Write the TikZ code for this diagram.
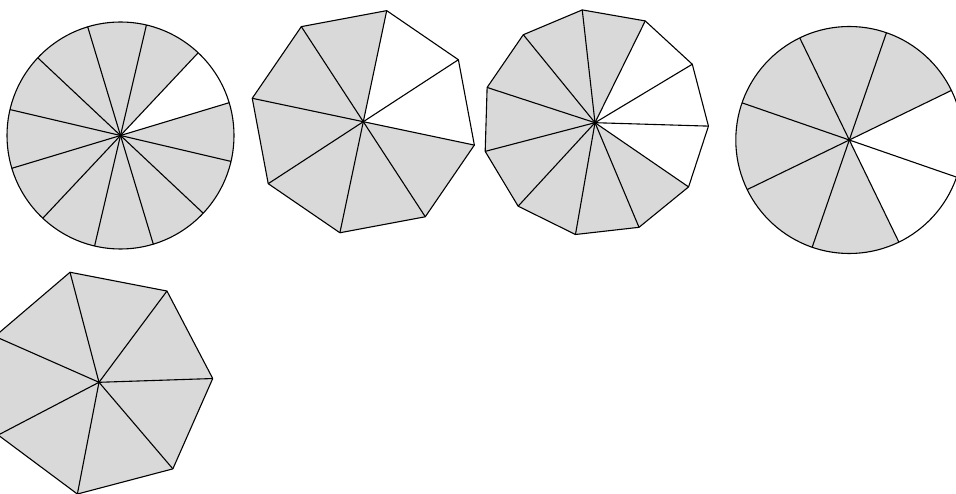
\documentclass[tikz,border=0pt]{standalone}
\definecolor{sectorgray}{RGB}{217,217,217}
\tikzset{
  edge/.style={draw=black,line width=1.1pt,line join=round},
  piece/.style={fill=sectorgray},
}
\begin{document}
\begin{tikzpicture}[x=1pt,y=1pt]
\useasboundingbox (0,0) rectangle (956,493);
\clip (0,0) rectangle (956,493);
% ---- figure 1: circle, 12 sectors
\begin{scope}[shift={(120.5,357.5)}]
  \foreach \k in {1,...,11}
    \fill[piece] (0,0) -- ({16.8+30*\k}:113.5) arc[start angle={16.8+30*\k}, delta angle=30, radius=113.5] -- cycle;
  \foreach \k in {0,...,11}
    \draw[edge] (0,0) -- ({16.8+30*\k}:113.5);
  \draw[edge] (0,0) circle[radius=113.5];
\end{scope}
% ---- figure 2: octagon
\begin{scope}[shift={(363.3,371.3)}]
  \foreach \k in {1,...,6}
    \fill[piece] (0,0) -- ({33.1+45*\k}:113.5) -- ({33.1+45*(\k+1)}:113.5) -- cycle;
  \foreach \k in {0,...,7}
    \draw[edge] (0,0) -- ({33.1+45*\k}:113.5);
  \draw[edge] (33.1:113.5) \foreach \k in {1,...,7} { -- ({33.1+45*\k}:113.5) } -- cycle;
\end{scope}
% ---- figure 3: hendecagon
\begin{scope}[shift={(595,370.3)}]
  \foreach \k in {1,...,8}
    \fill[piece] (0,0) -- ({31+360/11*\k}:113.5) -- ({31+360/11*(\k+1)}:113.5) -- cycle;
  \foreach \k in {0,...,10}
    \draw[edge] (0,0) -- ({31+360/11*\k}:113.5);
  \draw[edge] (31:113.5) \foreach \k in {1,...,10} { -- ({31+360/11*\k}:113.5) } -- cycle;
\end{scope}
% ---- figure 4: circle, 8 sectors
\begin{scope}[shift={(849.3,353)}]
  \foreach \k in {0,...,5}
    \fill[piece] (0,0) -- ({25.9+45*\k}:113.5) arc[start angle={25.9+45*\k}, delta angle=45, radius=113.5] -- cycle;
  \foreach \k in {0,...,7}
    \draw[edge] (0,0) -- ({25.9+45*\k}:113.5);
  \draw[edge] (0,0) circle[radius=113.5];
\end{scope}
% ---- figure 5: heptagon
\begin{scope}[shift={(99,110.7)}]
  \foreach \k in {0,...,6}
    \fill[piece] (0,0) -- ({1.9+360/7*\k}:113.8) -- ({1.9+360/7*(\k+1)}:113.8) -- cycle;
  \foreach \k in {0,...,6}
    \draw[edge] (0,0) -- ({1.9+360/7*\k}:113.8);
  \draw[edge] (1.9:113.8) \foreach \k in {1,...,6} { -- ({1.9+360/7*\k}:113.8) } -- cycle;
\end{scope}
\end{tikzpicture}
\end{document}
